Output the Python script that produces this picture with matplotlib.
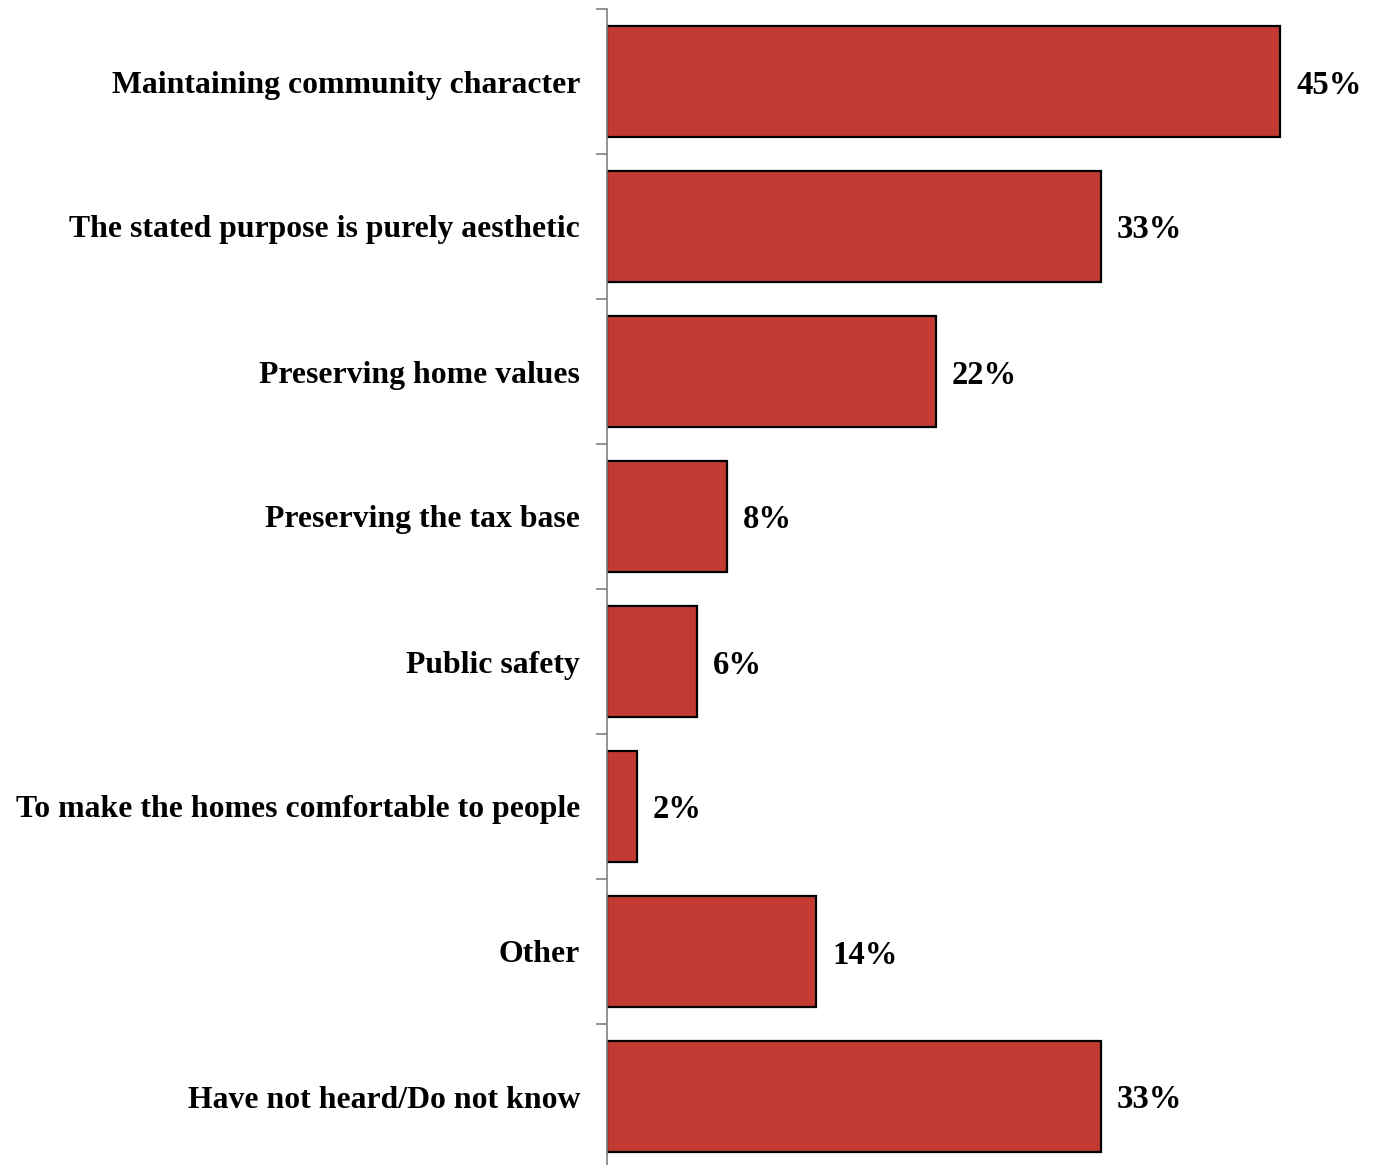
import matplotlib
matplotlib.use("Agg")
import matplotlib.pyplot as plt
import numpy as np

categories = [
    "Maintaining community character",
    "The stated purpose is purely aesthetic",
    "Preserving home values",
    "Preserving the tax base",
    "Public safety",
    "To make the homes comfortable to people",
    "Other",
    "Have not heard/Do not know",
]
values = [45, 33, 22, 8, 6, 2, 14, 33]

plt.rcParams["font.family"] = ["Liberation Serif", "DejaVu Serif"]

W, H = 1377, 1165
fig = plt.figure(figsize=(W / 100, H / 100), dpi=100)

left_px, top_px, band_px = 607, 9, 145
n = len(categories)
ax_h = n * band_px
ax = fig.add_axes([left_px / W, 1 - (top_px + ax_h) / H, (W - left_px) / W, ax_h / H])

px_per_pct = 14.96
xmax = (W - left_px) / px_per_pct
y = np.arange(n)
ax.barh(y, values, height=0.765, color="#C33A33", edgecolor="black", linewidth=1.6)

ax.set_xlim(0, xmax)
ax.set_ylim(n - 0.5, -0.5)

for s in ["top", "right", "bottom"]:
    ax.spines[s].set_visible(False)
ax.spines["left"].set_color("#808080")
ax.spines["left"].set_linewidth(1.2)

ax.set_xticks([])
ax.set_yticks(y)
ax.set_yticklabels(categories, fontsize=22.9, fontweight="bold")
ax.tick_params(axis="y", which="major", length=0, pad=19.5)
for lbl in ax.get_yticklabels():
    lbl.set_verticalalignment("center_baseline")
ax.set_yticks(np.arange(-0.5, n, 1.0), minor=True)
ax.tick_params(axis="y", which="minor", length=8, width=1.2, color="#808080", direction="out")

for yi, v in zip(y, values):
    ax.annotate(f"{v}%", xy=(v, yi), xytext=(16, 0), textcoords="offset pixels",
                va="center_baseline", ha="left", fontsize=23.5, fontweight="bold")

fig.savefig("out.png", dpi=100)
